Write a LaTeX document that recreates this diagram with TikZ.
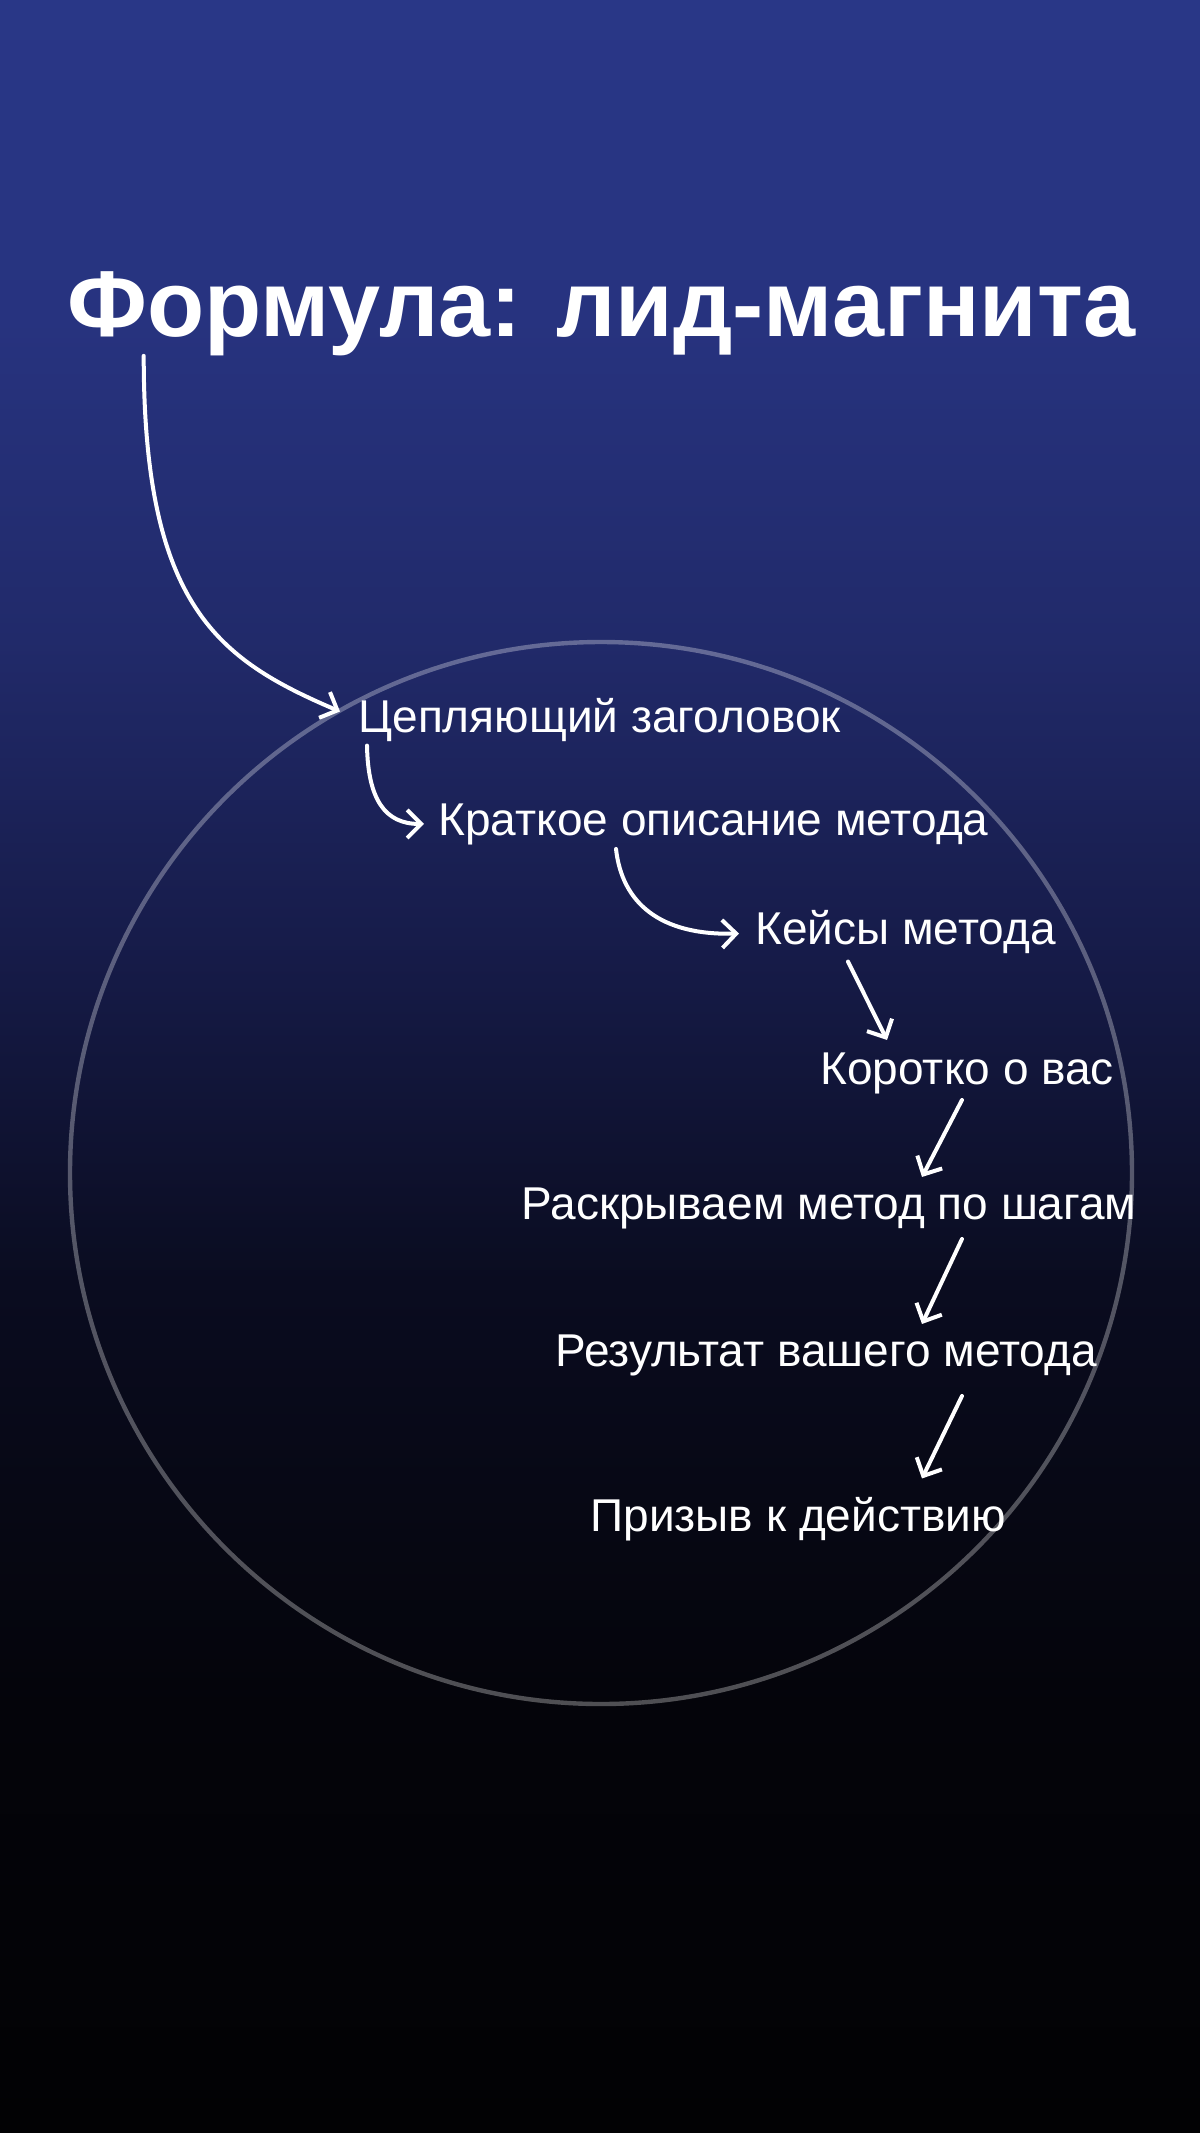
\documentclass[tikz,border=0pt]{standalone}
\usepackage{fontspec}
\setmainfont{Liberation Sans}
\usetikzlibrary{arrows.meta,calc}
\definecolor{bgtop}{RGB}{41,55,135}
\definecolor{bgupper}{RGB}{39,51,127}
\definecolor{bgmid}{RGB}{33,42,106}
\definecolor{bglow}{RGB}{22,27,72}
\definecolor{bgdeep}{RGB}{10,12,32}
\definecolor{bgdark}{RGB}{4,4,10}
\definecolor{bgbottom}{RGB}{2,2,4}
\pgfdeclareverticalshading{backdrop}{100bp}{color(0bp)=(bgbottom); color(25bp)=(bgbottom); color(35bp)=(bgdark); color(45bp)=(bgdeep); color(52.5bp)=(bglow); color(60bp)=(bgmid); color(67.5bp)=(bgupper); color(75bp)=(bgtop); color(100bp)=(bgtop)}
\begin{document}
\begin{tikzpicture}[x=0.5pt,y=-0.5pt,
        headline/.style={text=white,inner sep=0pt,anchor=base,font=\fontsize{46.8pt}{50pt}\selectfont\bfseries},
        stage/.style={text=white,inner sep=0pt,anchor=base west,font=\fontsize{23pt}{26pt}\selectfont},
        flow/.style={white,line width=2pt,line cap=round,-{Straight Barb[length=7pt,width=14pt,line width=2pt]}}]
    \useasboundingbox (0,0) rectangle (1200,2133);
    \shade[shading=backdrop] (0,0) rectangle (1200,2133);
    \draw[white,opacity=0.3,line width=2.2pt] (601,1173) circle (265.5pt);
    \node[headline] (title) at (601,336) {Формула: лид-магнита};
    \node[stage] (hook) at (358,732) {Цепляющий заголовок};
    \node[stage] (brief) at (438,835) {Краткое описание метода};
    \node[stage] (cases) at (755,944) {Кейсы метода};
    \node[stage] (about) at (820,1084) {Коротко о вас};
    \node[stage] (steps) at (521,1219) {Раскрываем метод по шагам};
    \node[stage] (result) at (555,1366) {Результат вашего метода};
    \node[stage] (cta) at (590,1531) {Призыв к действию};
    \draw[flow] ($(title.south west)+(77,0)$) .. controls ($(title.south west)+(77,250)$) and ($(hook.west)+(-140,-60)$) .. ($(hook.west)+(-18,-8)$);
    \draw[flow] ($(hook.south west)+(9,4)$) .. controls ($(hook.south west)+(10,58)$) and ($(brief.west)+(-53,0)$) .. ($(brief.west)+(-14,0)$);
    \draw[flow] ($(brief.south west)+(178,4)$) .. controls ($(brief.south west)+(184,58)$) and ($(cases.west)+(-95,4)$) .. ($(cases.west)+(-16,2)$);
    \draw[flow] ($(cases.south west)+(93,8)$) -- ($(about.north west)+(67,-12)$);
    \draw[flow] ($(about.south west)+(142,6)$) -- ($(steps.north west)+(401,-10)$);
    \draw[flow] ($(steps.south west)+(441,10)$) -- ($(result.north west)+(367,-10)$);
    \draw[flow] ($(result.south west)+(407,20)$) -- ($(cta.north west)+(332,-18)$);
\end{tikzpicture}
\end{document}
